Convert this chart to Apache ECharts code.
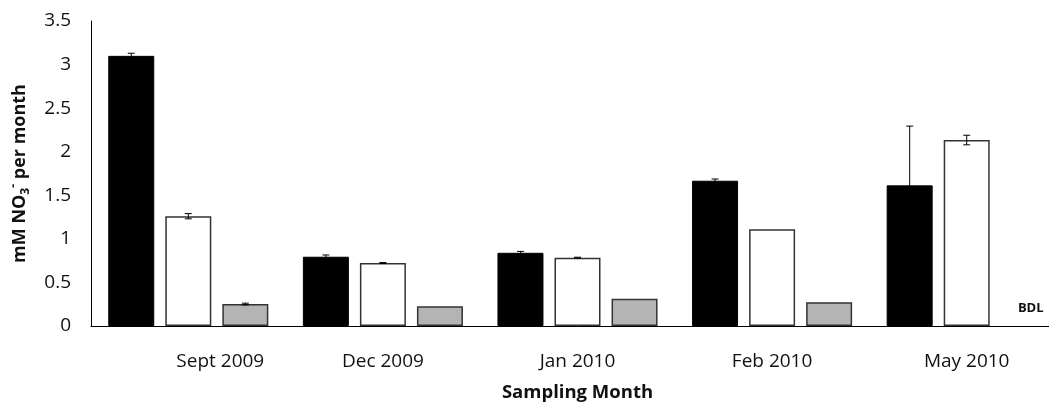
<!DOCTYPE html>
<html>
<head>
<meta charset="utf-8">
<script src="https://cdn.jsdelivr.net/npm/echarts@6/dist/echarts.min.js"></script>
<style>html,body{margin:0;padding:0;background:#fff;overflow:hidden;width:1049px;height:402px;}#c{width:1064px;height:402px;}</style>
</head>
<body>
<div id="c"></div>
<script>
const categories = ['Sept 2009', 'Dec 2009', 'Jan 2010', 'Feb 2010', 'May 2010'];
const blackValues = [3.10, 0.795, 0.84, 1.667, 1.614];
const whiteValues = [1.26, 0.723, 0.784, 1.11, 2.134];
const grayValues = [0.252, 0.226, 0.313, 0.272, 0];
const blackErr = [0.03, 0.02, 0.016, 0.02, 0.68];
const whiteErr = [0.03, 0.005, 0.005, 0, 0.055];
const grayErr = [0.01, 0, 0, 0, null];
const yTicks = { min: 0, max: 3.5, interval: 0.5 };
const bdlIndex = 4;

const FONT = 'Open Sans';
const chart = echarts.init(document.getElementById('c'));

function errSeries(values, errs, offset) {
  return {
    type: 'custom',
    z: 10,
    silent: true,
    data: values.map((v, i) => [i, v, errs[i]]),
    renderItem: function (params, api) {
      const e = api.value(2);
      if (e === null || isNaN(e) || e <= 0) return null;
      const i = api.value(0), v = api.value(1);
      const hi = api.coord([i, v + e]);
      const lo = api.coord([i, v - e]);
      const x = hi[0] + offset;
      const cap = 3.5;
      const st = { stroke: '#000', lineWidth: 1 };
      return {
        type: 'group',
        children: [
          { type: 'line', shape: { x1: x, y1: hi[1], x2: x, y2: lo[1] }, style: st },
          { type: 'line', shape: { x1: x - cap, y1: hi[1], x2: x + cap, y2: hi[1] }, style: st },
          { type: 'line', shape: { x1: x - cap, y1: lo[1], x2: x + cap, y2: lo[1] }, style: st }
        ]
      };
    }
  };
}

const grayData = grayValues.map((v, i) => {
  if (i === bdlIndex) {
    return {
      value: v,
      itemStyle: { borderWidth: 0 },
      label: { show: true, position: 'top', formatter: 'BDL', fontFamily: FONT, fontWeight: 'bold', fontSize: 13, color: '#111', offset: [7, -6] }
    };
  }
  return v;
});

chart.setOption({
  animation: false,
  backgroundColor: '#fff',
  grid: { left: 91, right: 0, top: 21, bottom: 76, containLabel: false, outerBoundsMode: 'none' },
  xAxis: {
    type: 'category',
    data: categories,
    axisLine: { lineStyle: { color: '#000', width: 1 } },
    axisTick: { show: false },
    axisLabel: {
      margin: 26,
      fontFamily: FONT, fontSize: 19, color: '#111',
      formatter: function (val, idx) { return idx === 0 ? '{first|' + val + '}' : val; },
      rich: { first: { fontFamily: FONT, fontSize: 19, color: '#111', padding: [0, 0, 0, 64] } }
    },
    name: 'Sampling Month',
    nameLocation: 'middle',
    nameGap: 57,
    nameTextStyle: { fontFamily: FONT, fontWeight: 'bold', fontSize: 18.5, color: '#111' }
  },
  yAxis: {
    type: 'value',
    min: yTicks.min, max: yTicks.max, interval: yTicks.interval,
    splitLine: { show: false },
    axisLine: { show: true, lineStyle: { color: '#000', width: 1 } },
    axisTick: { show: false },
    axisLabel: { margin: 20, fontFamily: FONT, fontSize: 19, color: '#111' },
    name: '{a|mM NO}{sub|3}{sup|-}{a| per month}',
    nameLocation: 'middle',
    nameRotate: 90,
    nameGap: 59,
    nameTextStyle: {
      fontFamily: FONT, fontWeight: 'bold', fontSize: 18, color: '#111',
      rich: {
        a: { fontFamily: FONT, fontWeight: 'bold', fontSize: 18, color: '#111', lineHeight: 24 },
        sub: { fontFamily: FONT, fontWeight: 'bold', fontSize: 12, color: '#111', lineHeight: 24, verticalAlign: 'bottom' },
        sup: { fontFamily: FONT, fontWeight: 'bold', fontSize: 12, color: '#111', lineHeight: 24, verticalAlign: 'top' }
      }
    }
  },
  series: [
    { type: 'bar', data: blackValues, barWidth: 46, barGap: '24%',
      itemStyle: { color: '#000', borderColor: '#000', borderWidth: 1 } },
    { type: 'bar', data: whiteValues, barWidth: 46, barGap: '24%',
      itemStyle: { color: '#fff', borderColor: '#333', borderWidth: 1.5 } },
    { type: 'bar', data: grayData, barWidth: 46, barGap: '24%',
      itemStyle: { color: '#b4b4b4', borderColor: '#333', borderWidth: 1.5 } },
    errSeries(blackValues, blackErr, -57),
    errSeries(whiteValues, whiteErr, 0),
    errSeries(grayValues, grayErr, 57)
  ]
});
</script>
</body>
</html>
